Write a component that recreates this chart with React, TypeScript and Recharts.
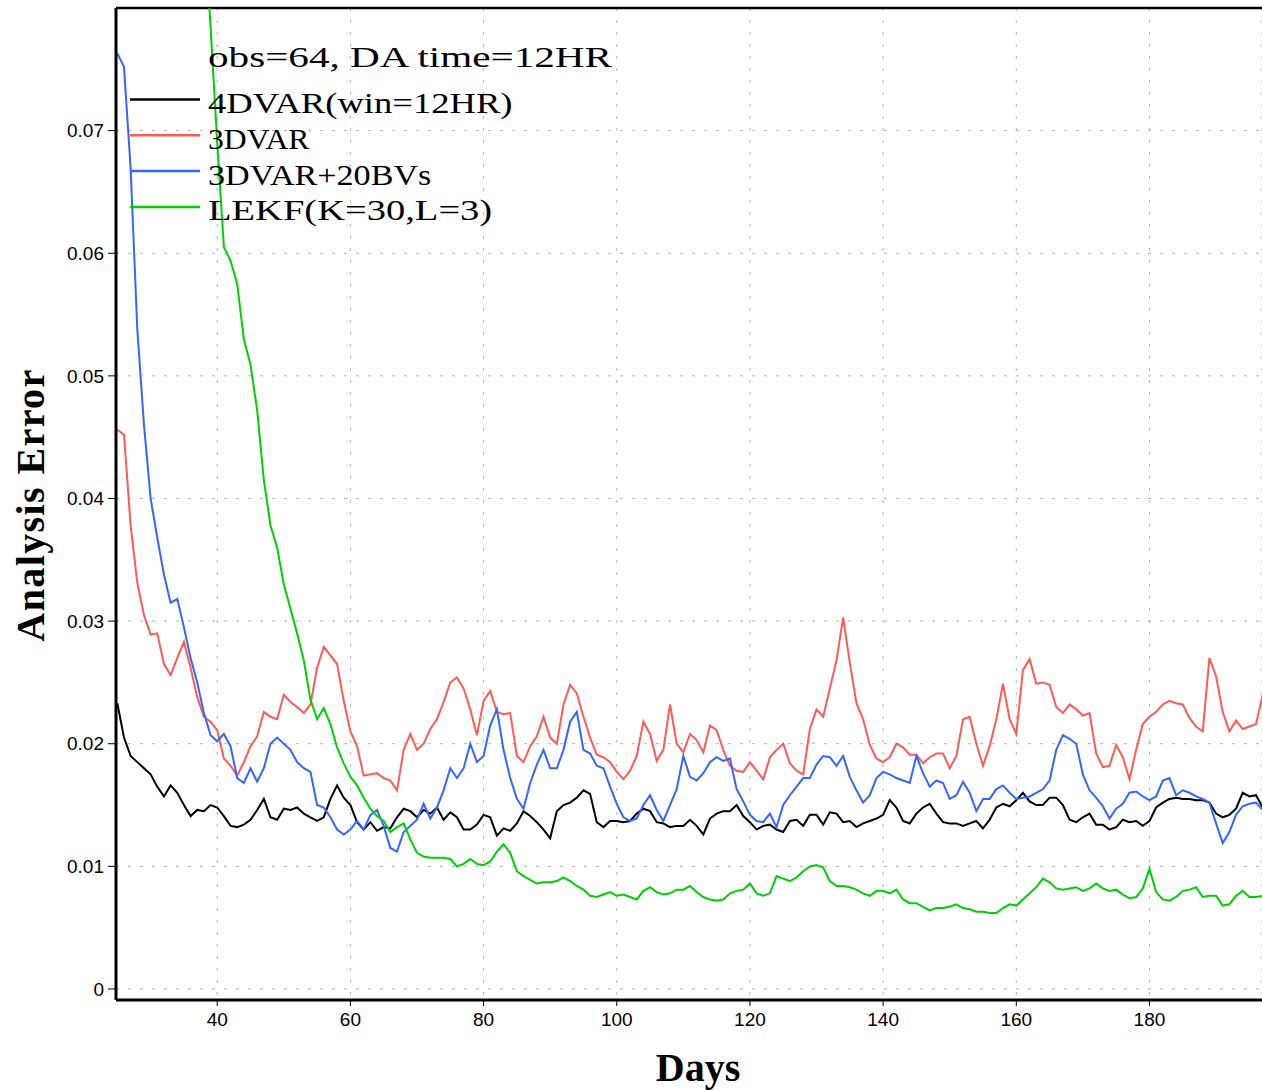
import React from 'react'
import { LineChart, Line, XAxis, YAxis, CartesianGrid, Legend, ReferenceLine } from 'recharts'

// analysis error sampled once per day, days 25..197
const firstDay = 25
const lastDay = 197

const fourDvar = [
  0.0233, 0.0205, 0.019, 0.0185, 0.018, 0.0175, 0.0165, 0.0157, 0.0166, 0.016,
  0.015, 0.0141, 0.0146, 0.0145, 0.015, 0.0148, 0.0141, 0.0133, 0.0132, 0.0134,
  0.0138, 0.0146, 0.0155, 0.014, 0.0138, 0.0147, 0.0146, 0.0148, 0.0143, 0.014,
  0.0137, 0.014, 0.0155, 0.0166, 0.0156, 0.015, 0.0136, 0.013, 0.0136, 0.0129,
  0.0132, 0.0131, 0.014, 0.0147, 0.0145, 0.014, 0.0146, 0.0143, 0.0148, 0.0138,
  0.0144, 0.014, 0.013, 0.013, 0.0134, 0.0142, 0.014, 0.0125, 0.0131, 0.0129,
  0.0135, 0.0145, 0.0141, 0.0136, 0.013, 0.0123, 0.0145, 0.015, 0.0152, 0.0156,
  0.0162, 0.0159, 0.0136, 0.0132, 0.0137, 0.0137, 0.0136, 0.0137, 0.0143, 0.0147,
  0.0145, 0.0136, 0.0135, 0.0132, 0.0133, 0.0133, 0.0138, 0.0133, 0.0126, 0.0139,
  0.0143, 0.0145, 0.0145, 0.015, 0.0141, 0.0136, 0.013, 0.0133, 0.0134, 0.013,
  0.0128, 0.0137, 0.0138, 0.0133, 0.0142, 0.0142, 0.0134, 0.0144, 0.0143, 0.0136,
  0.0137, 0.0132, 0.0135, 0.0137, 0.0139, 0.0142, 0.0154, 0.0148, 0.0137, 0.0135,
  0.0143, 0.0148, 0.0151, 0.0143, 0.0136, 0.0135, 0.0135, 0.0133, 0.0135, 0.0137,
  0.0131, 0.0138, 0.0148, 0.0151, 0.0149, 0.0154, 0.016, 0.0153, 0.015, 0.015,
  0.0156, 0.0156, 0.015, 0.0138, 0.0136, 0.014, 0.0143, 0.0134, 0.0134, 0.013,
  0.0132, 0.0138, 0.0136, 0.0137, 0.0133, 0.0137, 0.0148, 0.0152, 0.0155, 0.0156,
  0.0155, 0.0155, 0.0154, 0.0154, 0.0152, 0.0143, 0.014, 0.0142, 0.0147, 0.016,
  0.0157, 0.0158, 0.0148,
]

const threeDvar = [
  0.0456, 0.0452, 0.0378, 0.0331, 0.0305, 0.0289, 0.029, 0.0265, 0.0256, 0.027,
  0.0283, 0.0262, 0.0238, 0.0222, 0.0218, 0.0211, 0.0188, 0.0182, 0.0174, 0.0185,
  0.0198, 0.0206, 0.0226, 0.0222, 0.022, 0.024, 0.0234, 0.023, 0.0225, 0.0232,
  0.0262, 0.0279, 0.0272, 0.0265, 0.0235, 0.021, 0.0198, 0.0174, 0.0175, 0.0176,
  0.0172, 0.017, 0.0162, 0.0195, 0.0208, 0.0195, 0.02, 0.0212, 0.022, 0.0234,
  0.025, 0.0254, 0.0245, 0.0228, 0.0207, 0.0235, 0.0243, 0.0226, 0.0224, 0.0225,
  0.019, 0.0185, 0.0198, 0.0206, 0.0222, 0.0205, 0.02, 0.0232, 0.0248, 0.0241,
  0.0222, 0.0205, 0.0191, 0.0189, 0.0185, 0.0177, 0.0171, 0.0178, 0.019, 0.0218,
  0.0208, 0.0186, 0.0195, 0.0232, 0.02, 0.0193, 0.0208, 0.0203, 0.0193, 0.0215,
  0.0211, 0.0195, 0.0182, 0.0178, 0.0177, 0.0185, 0.0178, 0.0171, 0.0189, 0.0195,
  0.02, 0.0184, 0.0178, 0.0175, 0.0212, 0.0228, 0.0222, 0.0245, 0.0268, 0.0303,
  0.0266, 0.0233, 0.022, 0.0199, 0.0188, 0.0185, 0.0189, 0.02, 0.0197, 0.0191,
  0.0191, 0.0184, 0.0189, 0.0192, 0.0192, 0.018, 0.019, 0.022, 0.0222, 0.02,
  0.0182, 0.0198, 0.022, 0.0249, 0.022, 0.0208, 0.026, 0.0269, 0.0249, 0.025,
  0.0248, 0.023, 0.0225, 0.0232, 0.0228, 0.0223, 0.0225, 0.0192, 0.0181, 0.0182,
  0.0199, 0.0189, 0.0171, 0.0195, 0.0216, 0.0222, 0.0226, 0.0232, 0.0235, 0.0233,
  0.0232, 0.0221, 0.0214, 0.021, 0.027, 0.0255, 0.0226, 0.021, 0.0219, 0.0212,
  0.0214, 0.0216, 0.024,
]

const threeDvarBv = [
  0.0763, 0.0752, 0.0669, 0.0538, 0.046, 0.04, 0.0368, 0.0338, 0.0315, 0.0318,
  0.0295, 0.027, 0.025, 0.0225, 0.0207, 0.0202, 0.0208, 0.0198, 0.0172, 0.0168,
  0.018, 0.0169, 0.018, 0.02, 0.0205, 0.02, 0.0195, 0.0185, 0.018, 0.0177,
  0.015, 0.0148, 0.014, 0.013, 0.0126, 0.013, 0.0137, 0.013, 0.0142, 0.0146,
  0.0133, 0.0115, 0.0112, 0.0128, 0.0133, 0.0138, 0.0151, 0.0139, 0.0148, 0.0162,
  0.018, 0.0172, 0.018, 0.02, 0.0185, 0.019, 0.0215, 0.0228, 0.0195, 0.0172,
  0.0155, 0.0147, 0.0168, 0.0183, 0.0195, 0.018, 0.018, 0.0195, 0.0218, 0.0226,
  0.0195, 0.0192, 0.0182, 0.018, 0.0165, 0.0151, 0.014, 0.0137, 0.0139, 0.015,
  0.0158, 0.0146, 0.0137, 0.015, 0.0163, 0.019, 0.0173, 0.017, 0.0176, 0.0185,
  0.0189, 0.0186, 0.0188, 0.0163, 0.0153, 0.0142, 0.0137, 0.0136, 0.0143, 0.0132,
  0.015, 0.0158, 0.0165, 0.0172, 0.0172, 0.0183, 0.019, 0.0189, 0.0182, 0.019,
  0.0173, 0.0162, 0.0152, 0.0158, 0.0172, 0.0177, 0.0175, 0.0172, 0.017, 0.0168,
  0.019, 0.0176, 0.0165, 0.017, 0.0168, 0.0155, 0.0158, 0.0169, 0.016, 0.0145,
  0.0155, 0.0155, 0.0163, 0.0166, 0.016, 0.0155, 0.0156, 0.0157, 0.016, 0.0163,
  0.017, 0.0195, 0.0207, 0.0204, 0.02, 0.0175, 0.0162, 0.0156, 0.0149, 0.0139,
  0.0147, 0.0151, 0.016, 0.0161, 0.0157, 0.0154, 0.0157, 0.017, 0.0172, 0.0158,
  0.0162, 0.016, 0.0157, 0.0155, 0.0152, 0.0135, 0.0119, 0.0128, 0.0142, 0.0149,
  0.0151, 0.0152, 0.0146,
]

const lekf = [
  null, null, null, null, null, null, null, null, null, null,
  null, null, null, 0.087, 0.0785, 0.069, 0.0605, 0.0594, 0.0575, 0.053,
  0.0509, 0.0472, 0.0415, 0.0378, 0.036, 0.033, 0.031, 0.029, 0.0268, 0.0236,
  0.022, 0.0229, 0.0216, 0.0197, 0.0184, 0.0173, 0.0166, 0.0156, 0.0147, 0.0141,
  0.0137, 0.0128, 0.0132, 0.0135, 0.0122, 0.0111, 0.0108, 0.0107, 0.0107, 0.0107,
  0.0106, 0.01, 0.0102, 0.0106, 0.0102, 0.0101, 0.0104, 0.0112, 0.0118, 0.0111,
  0.0096, 0.0092, 0.0089, 0.0086, 0.0087, 0.0087, 0.0088, 0.0091, 0.0088, 0.0084,
  0.0081, 0.0076, 0.0075, 0.0077, 0.0079, 0.0076, 0.0077, 0.0075, 0.0073, 0.008,
  0.0083, 0.0079, 0.0077, 0.0078, 0.0081, 0.0081, 0.0084, 0.0079, 0.0075, 0.0073,
  0.0072, 0.0073, 0.0078, 0.008, 0.0081, 0.0086, 0.0078, 0.0076, 0.0078, 0.0092,
  0.009, 0.0088, 0.0091, 0.0096, 0.01, 0.0101, 0.0099, 0.0088, 0.0084, 0.0084,
  0.0083, 0.0081, 0.0078, 0.0076, 0.008, 0.008, 0.0078, 0.0081, 0.0073, 0.007,
  0.007, 0.0067, 0.0064, 0.0066, 0.0066, 0.0067, 0.0069, 0.0066, 0.0065, 0.0063,
  0.0063, 0.0062, 0.0062, 0.0066, 0.0069, 0.0068, 0.0073, 0.0078, 0.0083, 0.009,
  0.0087, 0.0082, 0.0081, 0.0082, 0.0083, 0.008, 0.0082, 0.0086, 0.0082, 0.008,
  0.0081, 0.0077, 0.0074, 0.0075, 0.0082, 0.0098, 0.0079, 0.0073, 0.0072, 0.0075,
  0.008, 0.0081, 0.0083, 0.0075, 0.0076, 0.0076, 0.0068, 0.0069, 0.0076, 0.008,
  0.0075, 0.0075, 0.0076,
]

const seriesOrder = ['fourDvar', 'threeDvar', 'threeDvarBv', 'lekf']
const xTicks = [40, 60, 80, 100, 120, 140, 160, 180]
const yTicks = [0, 0.01, 0.02, 0.03, 0.04, 0.05, 0.06, 0.07]
const legendTitle = 'obs=64, DA time=12HR'

const data = []
for (let d = firstDay; d <= lastDay; d++) {
  const i = d - firstDay
  data.push({ day: d, fourDvar: fourDvar[i], threeDvar: threeDvar[i], threeDvarBv: threeDvarBv[i], lekf: lekf[i] })
}

const tickFont = { fontFamily: 'Liberation Sans, Arial, sans-serif', fontSize: 19, fill: '#000' }
const serif = 'Liberation Serif, Times New Roman, serif'
// the legend text sits on an even ~20px grid per character, glyphs look stretched
const charStep = 20.3

function LegendBox({ payload }: any) {
  const items = [...(payload || [])].sort(
    (a: any, b: any) => seriesOrder.indexOf(a.dataKey) - seriesOrder.indexOf(b.dataKey)
  )
  return (
    <svg width={660} height={230} style={{ display: 'block' }}>
      <text
        x={208}
        y={67}
        fontFamily={serif}
        fontSize={30}
        fill='#000'
        textLength={legendTitle.length * charStep - 2}
        lengthAdjust='spacingAndGlyphs'
      >
        {legendTitle}
      </text>
      {items.map((p: any, i: number) => (
        <g key={p.value}>
          <line x1={130} x2={200} y1={99.5 + i * 35.8} y2={99.5 + i * 35.8} stroke={p.color} strokeWidth={2.5} />
          <text
            x={208}
            y={113 + i * 35.8}
            fontFamily={serif}
            fontSize={30}
            fill='#000'
            textLength={String(p.value).length * charStep}
            lengthAdjust='spacingAndGlyphs'
          >
            {p.value}
          </text>
        </g>
      ))}
    </svg>
  )
}

export default function App() {
  return (
    <div style={{ position: 'absolute', left: 0, top: 0, width: 1262, height: 1090, background: '#fff' }}>
      <LineChart width={1262} height={1090} data={data} margin={{ top: 8, right: 0, bottom: 0, left: 0 }}>
        <CartesianGrid stroke='#b4b4b4' strokeDasharray='3 9' />
        <XAxis
          dataKey='day'
          type='number'
          domain={[24.8, 196.9]}
          allowDataOverflow
          ticks={xTicks}
          height={90}
          tick={tickFont}
          tickSize={6}
          tickMargin={7}
          tickLine={{ stroke: '#000' }}
          axisLine={{ stroke: '#000', strokeWidth: 3 }}
          label={{
            content: () => (
              <text x={698} y={1081} textAnchor='middle' fontFamily={serif} fontWeight='bold' fontSize={40} fill='#000'>
                Days
              </text>
            ),
          }}
        />
        <YAxis
          type='number'
          domain={[-0.0009, 0.08]}
          allowDataOverflow
          ticks={yTicks}
          width={116}
          tick={tickFont}
          tickFormatter={(v: number) => (v === 0 ? '0' : v.toFixed(2))}
          tickSize={8}
          tickMargin={4}
          tickLine={{ stroke: '#000' }}
          axisLine={{ stroke: '#000', strokeWidth: 3 }}
          label={{
            content: () => (
              <text
                x={30}
                y={505}
                transform='rotate(-90 30 505)'
                textAnchor='middle'
                dominantBaseline='central'
                fontFamily={serif}
                fontWeight='bold'
                fontSize={40}
                letterSpacing={1.4}
                fill='#000'
              >
                Analysis Error
              </text>
            ),
          }}
        />
        <ReferenceLine y={0.08} stroke='#000' strokeWidth={2.5} />
        <Legend
          layout='vertical'
          align='center'
          verticalAlign='middle'
          wrapperStyle={{ left: 0, top: 0, width: 660, height: 230 }}
          content={<LegendBox />}
        />
        <Line type='linear' dataKey='fourDvar' name='4DVAR(win=12HR)' stroke='#000000' strokeWidth={2} dot={false} isAnimationActive={false} />
        <Line type='linear' dataKey='threeDvar' name='3DVAR' stroke='#ff5a55' strokeWidth={2} dot={false} isAnimationActive={false} />
        <Line type='linear' dataKey='threeDvarBv' name='3DVAR+20BVs' stroke='#3366ff' strokeWidth={2} dot={false} isAnimationActive={false} />
        <Line type='linear' dataKey='lekf' name='LEKF(K=30,L=3)' stroke='#00d000' strokeWidth={2} dot={false} isAnimationActive={false} />
      </LineChart>
    </div>
  )
}
